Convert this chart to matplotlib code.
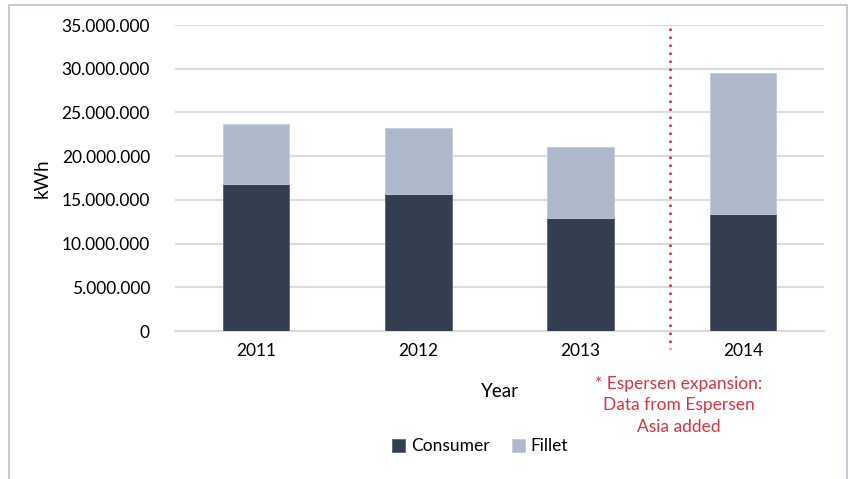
import matplotlib.pyplot as plt
from matplotlib.patches import Rectangle
from matplotlib.ticker import FuncFormatter

plt.rcParams['font.family'] = ['Lato', 'DejaVu Sans']

years = ['2011', '2012', '2013', '2014']
consumer = [16.8e6, 15.7e6, 12.95e6, 13.35e6]
fillet = [6.9e6, 7.5e6, 8.1e6, 16.15e6]
note = '* Espersen expansion:\nData from Espersen\nAsia added'

c_cons = '#333f50'
c_fill = '#adb9ca'

fig = plt.figure(figsize=(8.48, 4.79), dpi=100)
ax = fig.add_axes([175 / 848, 1 - 331 / 479, 649 / 848, 306 / 479])

x = range(len(years))
ax.bar(x, consumer, width=0.41, color=c_cons, edgecolor='#5a6577', linewidth=0.6,
       label='Consumer', zorder=3)
ax.bar(x, fillet, width=0.41, bottom=consumer, color=c_fill, edgecolor='#c4ccd8',
       linewidth=0.6, label='Fillet', zorder=3)

ax.set_xlim(-0.5, 3.5)
ax.set_ylim(0, 35e6)
ax.set_yticks(range(0, 35000001, 5000000))
ax.yaxis.set_major_formatter(FuncFormatter(lambda v, p: f'{int(v):,}'.replace(',', '.')))
ax.set_xticks(list(x))
ax.set_xticklabels(years)
ax.tick_params(axis='both', length=0, labelsize=12.5, colors='#000000')
ax.tick_params(axis='y', pad=18)
ax.tick_params(axis='x', pad=9)
ax.grid(axis='y', color='#dcdcdc', linewidth=1.5, zorder=0)
for s in ['top', 'right', 'left']:
    ax.spines[s].set_visible(False)
ax.spines['bottom'].set_color('#dcdcdc')
ax.spines['bottom'].set_linewidth(1.5)

ax.set_xlabel('Year', fontsize=13.5, labelpad=17)
ax.set_ylabel('kWh', fontsize=13.5, labelpad=8)

# dotted divider before the 2014 bar
ax.plot([2.548, 2.548], [34.7e6, -2.1e6], linestyle=(0, (1, 2.2)), color='#e0202c',
        linewidth=1.8, clip_on=False, zorder=4)

fig.text(679 / 848, 1 - 376 / 479, note, color='#e0323c', fontsize=12.5,
         ha='center', va='top', linespacing=1.42)

ax.legend(loc='upper center', bbox_to_anchor=(0.47, -0.3), ncol=2, frameon=False,
          fontsize=12.5, handlelength=0.75, handleheight=0.75, handletextpad=0.3,
          columnspacing=1.3)

fig.patches.append(Rectangle((9 / 848, -0.1), 838 / 848, 1.1 - 5 / 479,
                             transform=fig.transFigure, fill=False,
                             edgecolor='#b8c0ce', linewidth=1.2))

fig.savefig('out.png', dpi=100)
